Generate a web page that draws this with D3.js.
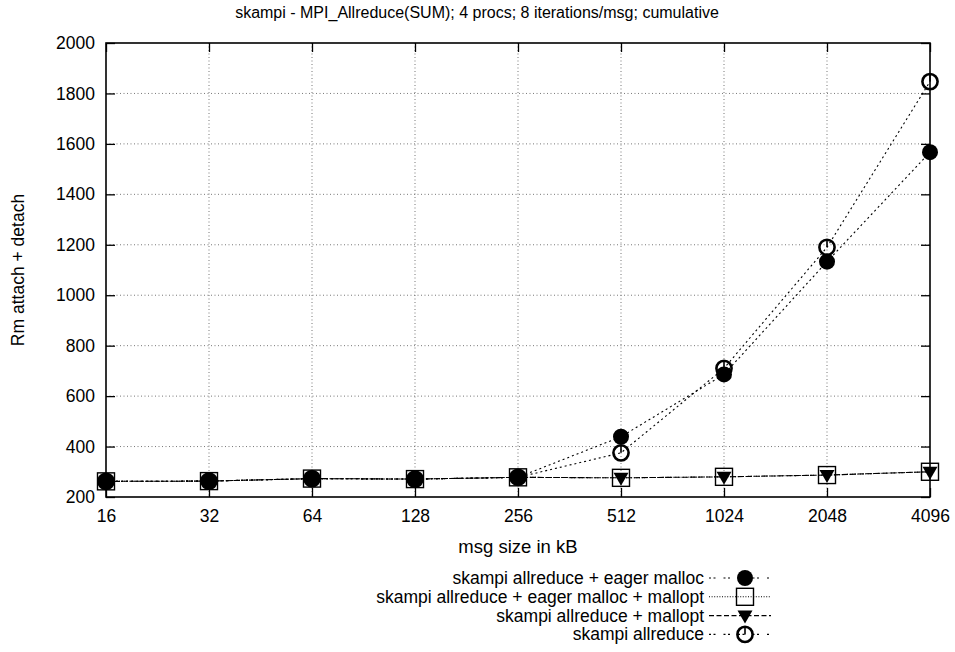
<!DOCTYPE html>
<html>
<head>
<meta charset="utf-8">
<script src="https://cdn.jsdelivr.net/npm/d3@7"></script>
<style>
  html, body { margin: 0; padding: 0; background: #fff; }
  svg { display: block; font-family: "Liberation Sans", Arial, Helvetica, sans-serif; }
</style>
</head>
<body>
<svg id="chart" width="955" height="652"></svg>
<script>
// Message sizes (kB) on a log2 axis
const sizes = [16, 32, 64, 128, 256, 512, 1024, 2048, 4096];
const yTicks = [200, 400, 600, 800, 1000, 1200, 1400, 1600, 1800, 2000];

// Cumulative attach + detach counts per series
const eagerMalloc        = [262, 263, 273, 271, 278, 439, 686, 1133, 1567];
const eagerMallocMallopt = [262, 263, 273, 271, 278, 276, 280, 287, 300];
const mallopt            = [262, 263, 273, 271, 278, 276, 280, 287, 300];
const allreduce          = [262, 263, 273, 271, 278, 375, 710, 1190, 1847];

const seriesNames = [
  "skampi allreduce + eager malloc",
  "skampi allreduce + eager malloc + mallopt",
  "skampi allreduce + mallopt",
  "skampi allreduce"
];

const series = [
  { name: seriesNames[0], values: eagerMalloc,        dash: "2,3",   legendDash: "2,2.5,2,8", marker: "filledCircle" },
  { name: seriesNames[1], values: eagerMallocMallopt, dash: "1,1.6", legendDash: "1,1.6",     marker: "square" },
  { name: seriesNames[2], values: mallopt,            dash: "6,2",   legendDash: "5,2.5",     marker: "triangle" },
  { name: seriesNames[3], values: allreduce,          dash: "2,3",   legendDash: "2,2.5,2,8", marker: "openCircle" }
];

const svg = d3.select("#chart");
const L = 106, R = 930, T = 43, B = 497;

const x = d3.scaleLog().base(2).domain([16, 4096]).range([L, R]);
const y = d3.scaleLinear().domain([200, 2000]).range([B, T]);

// Title
svg.append("text")
  .attr("x", 477).attr("y", 18)
  .attr("text-anchor", "middle")
  .attr("font-size", 16)
  .text("skampi - MPI_Allreduce(SUM); 4 procs; 8 iterations/msg; cumulative");

// Grid lines
const grid = svg.append("g");
grid.selectAll("line.gy").data(yTicks.slice(1, -1)).join("line")
  .attr("x1", L).attr("x2", R)
  .attr("y1", d => y(d)).attr("y2", d => y(d))
  .attr("stroke", "#777").attr("stroke-width", 1).attr("stroke-dasharray", "1,2.5");
grid.selectAll("line.gx").data(sizes.slice(1, -1)).join("line")
  .attr("x1", d => x(d)).attr("x2", d => x(d))
  .attr("y1", T).attr("y2", B)
  .attr("stroke", "#777").attr("stroke-width", 1).attr("stroke-dasharray", "1,2.5");

// Axes (ticks pointing inward, mirrored on the opposite side)
const axL = svg.append("g").attr("transform", `translate(${L},0)`)
  .call(d3.axisLeft(y).tickValues(yTicks).tickSize(-9).tickPadding(11).tickFormat(d3.format("d")));
const axR = svg.append("g").attr("transform", `translate(${R},0)`)
  .call(d3.axisRight(y).tickValues(yTicks).tickSize(-9).tickFormat(""));
const axB = svg.append("g").attr("transform", `translate(0,${B})`)
  .call(d3.axisBottom(x).tickValues(sizes).tickSize(-9).tickPadding(13).tickFormat(d3.format("d")));
const axT = svg.append("g").attr("transform", `translate(0,${T})`)
  .call(d3.axisTop(x).tickValues(sizes).tickSize(-9).tickFormat(""));
[axL, axR, axB, axT].forEach(g => {
  g.select(".domain").remove();
  g.selectAll(".tick line").attr("stroke", "#000").attr("stroke-width", 1.3);
  g.selectAll(".tick text").attr("font-size", 17.5).attr("fill", "#000")
    .attr("font-family", "Liberation Sans, Arial, sans-serif");
});

// Frame
svg.append("rect")
  .attr("x", L).attr("y", T).attr("width", R - L).attr("height", B - T)
  .attr("fill", "none").attr("stroke", "#000").attr("stroke-width", 1.6);

// Axis labels
svg.append("text")
  .attr("transform", `translate(24,${(T + B) / 2}) rotate(-90)`)
  .attr("text-anchor", "middle").attr("font-size", 17.5)
  .text("Rm attach + detach");
svg.append("text")
  .attr("x", 518).attr("y", 553)
  .attr("text-anchor", "middle").attr("font-size", 18.5)
  .text("msg size in kB");

// Marker drawing
function drawMarker(g, type, cx, cy) {
  if (type === "filledCircle") {
    g.append("circle").attr("cx", cx).attr("cy", cy).attr("r", 8).attr("fill", "#000");
  } else if (type === "square") {
    g.append("rect").attr("x", cx - 8.5).attr("y", cy - 8.5).attr("width", 17).attr("height", 17)
      .attr("fill", "none").attr("stroke", "#000").attr("stroke-width", 1.4);
  } else if (type === "triangle") {
    g.append("path")
      .attr("d", `M${cx - 7.5},${cy - 5} L${cx + 7.5},${cy - 5} L${cx},${cy + 8} Z`)
      .attr("fill", "#000");
  } else if (type === "openCircle") {
    g.append("circle").attr("cx", cx).attr("cy", cy).attr("r", 7.6)
      .attr("fill", "none").attr("stroke", "#000").attr("stroke-width", 2.6);
    g.append("line").attr("x1", cx).attr("x2", cx).attr("y1", cy - 7.6).attr("y2", cy)
      .attr("stroke", "#000").attr("stroke-width", 1.6);
  }
}

const line = d3.line().x((d, i) => x(sizes[i])).y(d => y(d));

// Series lines and markers
series.forEach(s => {
  const g = svg.append("g");
  g.append("path").datum(s.values)
    .attr("d", line)
    .attr("fill", "none").attr("stroke", "#000").attr("stroke-width", 1.1)
    .attr("stroke-dasharray", s.dash);
  s.values.forEach((v, i) => drawMarker(g, s.marker, x(sizes[i]), y(v)));
});

// Legend
const legend = svg.append("g");
const legY0 = 578, legDy = 18.8;
series.forEach((s, i) => {
  const ly = legY0 + i * legDy;
  legend.append("text")
    .attr("x", 704).attr("y", ly + 6)
    .attr("text-anchor", "end").attr("font-size", 17.5)
    .text(s.name);
  legend.append("line")
    .attr("x1", 709).attr("x2", 771).attr("y1", ly).attr("y2", ly)
    .attr("stroke", "#000").attr("stroke-width", 1.1)
    .attr("stroke-dasharray", s.legendDash);
  drawMarker(legend, s.marker, 745, ly);
});
</script>
</body>
</html>
